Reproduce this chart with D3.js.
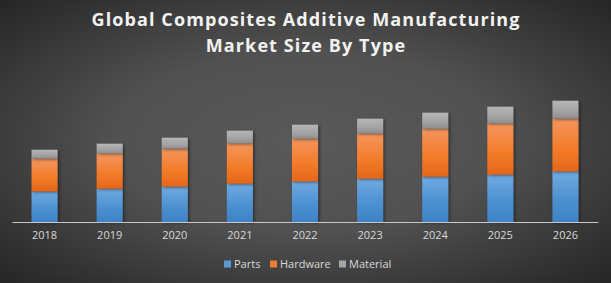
<!DOCTYPE html>
<html>
<head>
<meta charset="utf-8">
<script src="https://cdn.jsdelivr.net/npm/d3@7"></script>
<style>
  body { margin: 0; background: #333; }
  svg { display: block; }
</style>
</head>
<body>
<div id="chart"></div>
<script>
var width = 611;
var height = 283;

var years = ["2018", "2019", "2020", "2021", "2022", "2023", "2024", "2025", "2026"];
var parts = [30.6, 33.3, 35.3, 38.3, 40.6, 43.3, 45.3, 47.3, 50.6];
var hardware = [32.7, 35.3, 38, 40.3, 42.7, 45.3, 48, 51.3, 52.7];
var material = [9, 9.7, 11, 12.7, 14, 14.7, 16, 16.7, 18];
var seriesNames = ["Parts", "Hardware", "Material"];

var colors = {
  Parts: ["#71aae0", "#4a8fd0", "#3f82c6"],
  Hardware: ["#f4955e", "#f27b28", "#e4661a"],
  Material: ["#b6b6b6", "#a3a3a3", "#8e8e8e"]
};
var legendColors = { Parts: "#5b9bd5", Hardware: "#ed7d31", Material: "#a5a5a5" };

var rows = years.map(function(y, i) {
  return { year: y, Parts: parts[i], Hardware: hardware[i], Material: material[i] };
});

var svg = d3.select("#chart").append("svg")
  .attr("width", width)
  .attr("height", height);

var defs = svg.append("defs");
var bg = defs.append("radialGradient").attr("id", "bg")
  .attr("cx", "50%").attr("cy", "50%").attr("r", "70%");
bg.append("stop").attr("offset", "0%").attr("stop-color", "#595959");
bg.append("stop").attr("offset", "45%").attr("stop-color", "#515151");
bg.append("stop").attr("offset", "100%").attr("stop-color", "#262626");

seriesNames.forEach(function(s) {
  var g = defs.append("linearGradient").attr("id", "g-" + s)
    .attr("x1", 0).attr("y1", 0).attr("x2", 0).attr("y2", 1);
  g.append("stop").attr("offset", "0%").attr("stop-color", colors[s][0]);
  g.append("stop").attr("offset", "60%").attr("stop-color", colors[s][1]);
  g.append("stop").attr("offset", "100%").attr("stop-color", colors[s][2]);
});

var shadow = defs.append("filter").attr("id", "shadow")
  .attr("x", "-30%").attr("y", "-10%").attr("width", "160%").attr("height", "130%");
shadow.append("feDropShadow").attr("dx", 1.5).attr("dy", 1).attr("stdDeviation", 1.5)
  .attr("flood-color", "#000").attr("flood-opacity", 0.45);

svg.append("rect").attr("width", width).attr("height", height).attr("fill", "url(#bg)");

// title
var title = svg.append("text")
  .attr("text-anchor", "middle")
  .attr("font-family", "'Open Sans', sans-serif")
  .attr("font-weight", "bold")
  .attr("font-size", 18)
  .attr("letter-spacing", 1.1)
  .attr("fill", "#f2f2f2");
title.append("tspan").attr("x", width / 2 + 0.5).attr("y", 26).text("Global Composites Additive Manufacturing");
title.append("tspan").attr("x", width / 2 + 0.5).attr("y", 52).text("Market Size By Type");

var x = d3.scaleBand().domain(years).range([12, 598]).paddingInner(0.6).paddingOuter(0.3);
var y = d3.scaleLinear().domain([0, 140]).range([222, 82]);

var stack = d3.stack().keys(seriesNames);
var layers = stack(rows);

var bars = svg.append("g");
layers.forEach(function(layer) {
  bars.append("g")
    .attr("fill", "url(#g-" + layer.key + ")")
    .attr("filter", "url(#shadow)")
    .selectAll("rect")
    .data(layer)
    .enter().append("rect")
    .attr("x", function(d) { return x(d.data.year); })
    .attr("y", function(d) { return y(d[1]); })
    .attr("width", x.bandwidth())
    .attr("height", function(d) { return y(d[0]) - y(d[1]); });
});

var axis = svg.append("g")
  .attr("transform", "translate(0," + y(0) + ")")
  .call(d3.axisBottom(x).tickSize(0).tickPadding(9));
axis.select(".domain").attr("stroke", "#c8c8c8").attr("stroke-width", 1.2);
axis.selectAll("text")
  .attr("font-family", "'Open Sans', sans-serif")
  .attr("font-size", 11)
  .attr("fill", "#d9d9d9");

// legend
var legend = svg.append("g").attr("transform", "translate(224,264)");
var offsets = [0, 46, 115];
seriesNames.forEach(function(s, i) {
  var item = legend.append("g").attr("transform", "translate(" + offsets[i] + ",0)");
  item.append("rect").attr("x", 0).attr("y", -3.5).attr("width", 7).attr("height", 7)
    .attr("fill", legendColors[s]);
  item.append("text").attr("x", 10).attr("y", 0).attr("dy", "0.35em")
    .attr("font-family", "'Open Sans', sans-serif")
    .attr("font-size", 11)
    .attr("fill", "#d9d9d9")
    .text(s);
});
</script>
</body>
</html>
